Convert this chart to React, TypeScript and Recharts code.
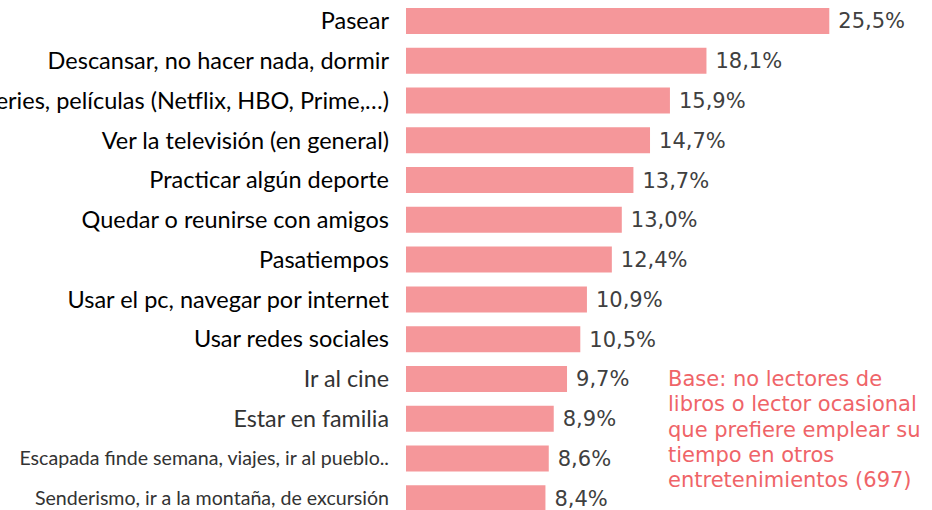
import React from "react";
import { BarChart, Bar, XAxis, YAxis, LabelList } from "recharts";

const activities = [
  "Pasear",
  "Descansar, no hacer nada, dormir",
  "Ver series, películas (Netflix, HBO, Prime,…)",
  "Ver la televisión (en general)",
  "Practicar algún deporte",
  "Quedar o reunirse con amigos",
  "Pasatiempos",
  "Usar el pc, navegar por internet",
  "Usar redes sociales",
  "Ir al cine",
  "Estar en familia",
  "Escapada finde semana, viajes, ir al pueblo..",
  "Senderismo, ir a la montaña, de excursión",
];
const shares = [25.5, 18.1, 15.9, 14.7, 13.7, 13.0, 12.4, 10.9, 10.5, 9.7, 8.9, 8.6, 8.4];
const baseNote = [
  "Base: no lectores de",
  "libros o lector ocasional",
  "que prefiere emplear su",
  "tiempo en otros",
  "entretenimientos (697)",
];

const data = activities.map((name, i) => ({ name, value: shares[i] }));

const BAR = "#F5979A";
const pct = (v: number) => v.toFixed(1).replace(".", ",") + "%";

function ActivityTick({ x, y, payload, index }: any) {
  const big = index < 9;
  const size = big ? 23.5 : index < 11 ? 23.3 : 19.6;
  return (
    <text
      x={x}
      y={y}
      dy="0.36em"
      textAnchor="end"
      fontFamily="Lato, sans-serif"
      fontSize={size}
      fill={big ? "#000" : "#333"}
    >
      {payload.value}
    </text>
  );
}

export default function App() {
  return (
    <div style={{ position: "absolute", left: 0, top: 0, width: 932, height: 510, overflow: "hidden", background: "#fff" }}>
      <BarChart
        width={932}
        height={518}
        data={data}
        layout="vertical"
        margin={{ top: 1, right: 28, bottom: 0, left: 0 }}
      >
        <XAxis type="number" domain={[0, 30]} hide />
        <YAxis
          type="category"
          dataKey="name"
          width={406}
          tickLine={false}
          axisLine={false}
          tickSize={0}
          tickMargin={17}
          interval={0}
          tick={<ActivityTick />}
        />
        <Bar dataKey="value" fill={BAR} barSize={26} isAnimationActive={false}>
          <LabelList
            dataKey="value"
            position="right"
            offset={9}
            formatter={pct}
            fill="#404040"
            fontSize={21}
            fontFamily="DejaVu Sans, Verdana, sans-serif"
          />
        </Bar>
      </BarChart>
      <div
        style={{
          position: "absolute",
          left: 668,
          top: 367,
          fontFamily: "DejaVu Sans, Verdana, sans-serif",
          fontSize: 21,
          lineHeight: "25.3px",
          color: "#EF6468",
          whiteSpace: "nowrap",
        }}
      >
        {baseNote.map((line) => (
          <div key={line}>{line}</div>
        ))}
      </div>
    </div>
  );
}
